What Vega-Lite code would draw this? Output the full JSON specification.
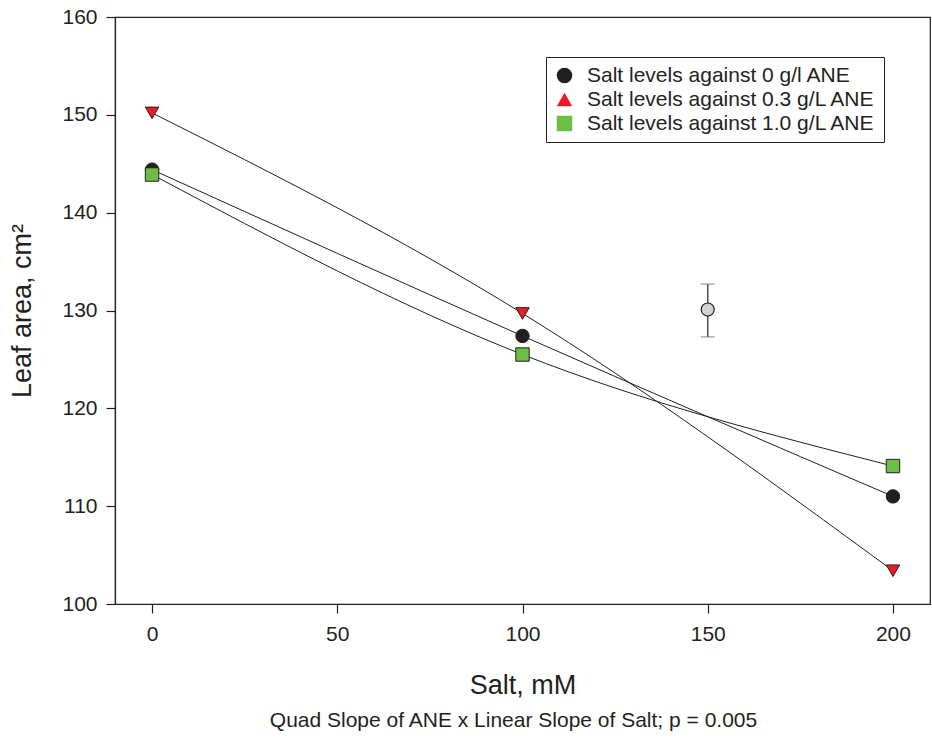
{
  "$schema": "https://vega.github.io/schema/vega-lite/v6.json",
  "width": 815,
  "height": 587,
  "autosize": {"type": "none"},
  "padding": {"left": 115, "top": 17, "right": 2, "bottom": 136},
  "background": "white",
  "config": {
    "font": "Liberation Sans",
    "view": {"stroke": "#231f20", "strokeWidth": 1.2},
    "axis": {
      "grid": false,
      "domainColor": "#231f20",
      "tickColor": "#231f20",
      "labelColor": "#231f20",
      "titleColor": "#231f20",
      "labelFontSize": 21,
      "titleFontSize": 27,
      "titleFontWeight": "normal",
      "tickSize": 9,
      "domainWidth": 1.2,
      "tickWidth": 1.2
    }
  },
  "title": {
    "text": "Quad Slope of ANE x Linear Slope of Salt; p = 0.005",
    "orient": "bottom",
    "anchor": "middle",
    "fontSize": 21,
    "fontWeight": "normal",
    "color": "#231f20",
    "offset": 12,
    "dx": -9
  },
  "datasets": {
    "series": [
      {"series": "Salt levels against 0 g/l ANE", "salt": 0, "leaf": 144.4},
      {"series": "Salt levels against 0 g/l ANE", "salt": 100, "leaf": 127.4},
      {"series": "Salt levels against 0 g/l ANE", "salt": 200, "leaf": 111.0},
      {"series": "Salt levels against 0.3 g/L ANE", "salt": 0, "leaf": 150.2},
      {"series": "Salt levels against 0.3 g/L ANE", "salt": 100, "leaf": 129.7},
      {"series": "Salt levels against 0.3 g/L ANE", "salt": 200, "leaf": 103.4},
      {"series": "Salt levels against 1.0 g/L ANE", "salt": 0, "leaf": 143.9},
      {"series": "Salt levels against 1.0 g/L ANE", "salt": 100, "leaf": 125.5},
      {"series": "Salt levels against 1.0 g/L ANE", "salt": 200, "leaf": 114.1}
    ],
    "err": [
      {"salt": 150, "leaf": 130.1, "lo": 127.3, "hi": 132.7}
    ]
  },
  "encoding": {
    "x": {"field": "salt", "type": "quantitative", "scale": {"domain": [-10, 210], "nice": false, "zero": false},
          "axis": {"values": [0, 50, 100, 150, 200], "title": "Salt, mM", "titlePadding": 28, "labelPadding": 10}},
    "y": {"field": "leaf", "type": "quantitative", "scale": {"domain": [100, 160], "nice": false, "zero": false},
          "axis": {"values": [100, 110, 120, 130, 140, 150, 160], "title": "Leaf area, cm²", "titlePadding": 25, "labelPadding": 9}}
  },
  "layer": [
    {
      "data": {"name": "series"},
      "mark": {"type": "line", "interpolate": "natural", "color": "#231f20", "strokeWidth": 1},
      "encoding": {
        "detail": {"field": "series"}
      }
    },
    {
      "data": {"name": "err"},
      "mark": {"type": "errorbar", "ticks": {"size": 14, "color": "#4d4d4d", "strokeWidth": 1.5}, "color": "#4d4d4d", "rule": {"strokeWidth": 1.5}},
      "encoding": {
        "y": {"field": "lo", "type": "quantitative", "title": "Leaf area, cm²"},
        "y2": {"field": "hi"}
      }
    },
    {
      "data": {"name": "err"},
      "mark": {"type": "point", "shape": "circle", "filled": true, "size": 170, "fill": "#d1d3d4", "stroke": "#231f20", "strokeWidth": 1.2, "opacity": 1}
    },
    {
      "data": {"name": "series"},
      "mark": {"type": "point", "filled": true, "size": 180, "angle": 180, "stroke": "#231f20", "strokeWidth": 1, "opacity": 1},
      "encoding": {
        "color": {
          "field": "series", "type": "nominal",
          "scale": {"domain": ["Salt levels against 0 g/l ANE", "Salt levels against 0.3 g/L ANE", "Salt levels against 1.0 g/L ANE"],
                    "range": ["#231f20", "#ed1c24", "#6dbe45"]},
          "legend": {
            "title": null,
            "orient": "none",
            "legendX": 431,
            "legendY": 40,
            "strokeColor": "#231f20",
            "fillColor": "white",
            "padding": 8,
            "labelFontSize": 21,
            "labelLimit": 0,
            "labelColor": "#231f20",
            "symbolSize": 240,
            "symbolStrokeWidth": 0,
            "rowPadding": 2,
            "labelOffset": 12
          }
        },
        "shape": {
          "field": "series", "type": "nominal",
          "scale": {"domain": ["Salt levels against 0 g/l ANE", "Salt levels against 0.3 g/L ANE", "Salt levels against 1.0 g/L ANE"],
                    "range": ["circle", "triangle-up", "square"]},
          "legend": {
            "title": null,
            "orient": "none",
            "legendX": 431,
            "legendY": 40,
            "strokeColor": "#231f20",
            "fillColor": "white",
            "padding": 8,
            "labelFontSize": 21,
            "labelLimit": 0,
            "labelColor": "#231f20",
            "symbolSize": 240,
            "symbolStrokeWidth": 0,
            "rowPadding": 2,
            "labelOffset": 12
          }
        }
      }
    }
  ]
}
